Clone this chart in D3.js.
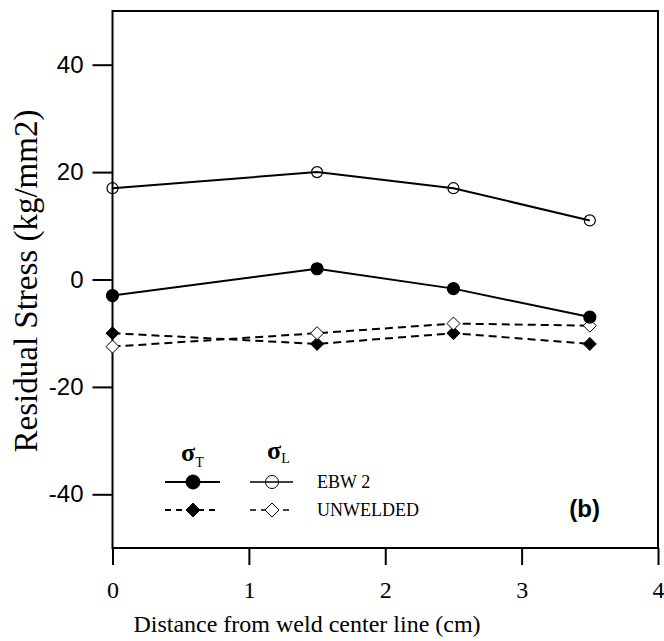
<!DOCTYPE html>
<html>
<head>
<meta charset="utf-8">
<script src="https://cdn.jsdelivr.net/npm/d3@7"></script>
<style>
  body { margin: 0; background: #fff; }
  svg { display: block; }
</style>
</head>
<body>
<svg id="chart" width="664" height="641"></svg>
<script>
// distances from weld centre line (cm)
const distance = [0, 1.5, 2.5, 3.5];
// residual stress (kg/mm2)
const ebwT = [-3, 2, -1.7, -7];
const ebwL = [17, 20, 17, 11];
const unweldedT = [-10, -12, -10, -12];
const unweldedL = [-12.5, -10, -8.2, -8.6];
const xTicks = [0, 1, 2, 3, 4];
const yTicks = [-40, -20, 0, 20, 40];

const svg = d3.select('#chart');
const plotLeft = 112.5, plotRight = 658, plotTop = 11, plotBottom = 548;

const x = d3.scaleLinear().domain([0, 4]).range([plotLeft, plotRight]);
const y = d3.scaleLinear().domain([-50, 50]).range([plotBottom, plotTop]);

// axes
const xAxis = svg.append('g')
    .attr('transform', `translate(0,${plotBottom})`)
    .call(d3.axisBottom(x).tickValues(xTicks).tickSize(17).tickPadding(16).tickFormat(d3.format('d')));
xAxis.select('.domain').remove();
xAxis.selectAll('line').attr('stroke', '#000').attr('stroke-width', 2);
xAxis.selectAll('text')
    .attr('fill', '#000')
    .style('font-family', '"Liberation Serif", "Times New Roman", serif')
    .style('font-size', '24px');

const yAxis = svg.append('g')
    .attr('transform', `translate(${plotLeft},0)`)
    .call(d3.axisLeft(y).tickValues(yTicks).tickSize(20).tickPadding(9).tickFormat(d => d < 0 ? '-' + Math.abs(d) : d));
yAxis.select('.domain').remove();
yAxis.selectAll('line').attr('stroke', '#000').attr('stroke-width', 2);
yAxis.selectAll('text')
    .attr('fill', '#000')
    .style('font-family', '"Liberation Sans", Arial, sans-serif')
    .style('font-size', '24px');

// frame
svg.append('rect')
    .attr('x', plotLeft).attr('y', plotTop)
    .attr('width', plotRight - plotLeft).attr('height', plotBottom - plotTop)
    .attr('fill', 'none')
    .attr('stroke', '#000')
    .attr('stroke-width', 2);

// titles
svg.append('text')
    .attr('x', 307).attr('y', 632)
    .attr('text-anchor', 'middle')
    .style('font-family', '"Liberation Serif", "Times New Roman", serif')
    .style('font-size', '24px')
    .text('Distance from weld center line (cm)');

svg.append('text')
    .attr('transform', 'translate(37,281) rotate(-90)')
    .attr('text-anchor', 'middle')
    .style('font-family', '"Liberation Serif", "Times New Roman", serif')
    .style('font-size', '33px')
    .text('Residual Stress (kg/mm2)');

// series
const series = [
    { values: unweldedT, dash: '8,5', marker: 'diamond', fill: '#000' },
    { values: unweldedL, dash: '8,5', marker: 'diamond', fill: '#fff' },
    { values: ebwT, dash: null, marker: 'circle', fill: '#000' },
    { values: ebwL, dash: null, marker: 'circle', fill: 'none' }
];

const line = d3.line()
    .x((d, i) => x(distance[i]))
    .y(d => y(d));

const diamond = (r) => `M0,${-r}L${r},0L0,${r}L${-r},0Z`;

series.forEach(s => {
    svg.append('path')
        .attr('d', line(s.values))
        .attr('fill', 'none')
        .attr('stroke', '#000')
        .attr('stroke-width', 2)
        .attr('stroke-dasharray', s.dash);
});

series.forEach(s => {
    const g = svg.append('g');
    s.values.forEach((v, i) => {
        if (s.marker === 'circle') {
            g.append('circle')
                .attr('cx', x(distance[i])).attr('cy', y(v))
                .attr('r', s.fill === 'none' ? 5.5 : 6)
                .attr('fill', s.fill)
                .attr('stroke', '#000')
                .attr('stroke-width', 1.2);
        } else {
            g.append('path')
                .attr('transform', `translate(${x(distance[i])},${y(v)})`)
                .attr('d', diamond(6.5))
                .attr('fill', s.fill)
                .attr('stroke', '#000')
                .attr('stroke-width', 1);
        }
    });
});

// legend
const legend = svg.append('g');
const serif = '"Liberation Serif", "Times New Roman", serif';

legend.append('text')
    .attr('x', 181).attr('y', 461)
    .style('font-family', serif).style('font-size', '26px').style('font-weight', 'bold')
    .text('σ')
    .append('tspan').attr('dy', 6).style('font-size', '14px').style('font-weight', 'normal').text('T');
legend.append('text')
    .attr('x', 267).attr('y', 459)
    .style('font-family', serif).style('font-size', '26px').style('font-weight', 'bold')
    .text('σ')
    .append('tspan').attr('dy', 4).style('font-size', '14px').style('font-weight', 'normal').text('L');

const rows = [
    { y: 482, dash: null, label: 'EBW 2', marker: 'circle', fills: ['#000', 'none'] },
    { y: 510, dash: '6,5', label: 'UNWELDED', marker: 'diamond', fills: ['#000', '#fff'] }
];
rows.forEach(r => {
    [[165, 220, 193], [250, 293, 272]].forEach((seg, k) => {
        legend.append('line')
            .attr('x1', seg[0]).attr('x2', seg[1])
            .attr('y1', r.y).attr('y2', r.y)
            .attr('stroke', '#000')
            .attr('stroke-width', k === 0 ? 2 : 1.5)
            .attr('stroke-dasharray', r.dash);
        if (r.marker === 'circle') {
            legend.append('circle')
                .attr('cx', seg[2]).attr('cy', r.y)
                .attr('r', k === 0 ? 7 : 6.5)
                .attr('fill', r.fills[k])
                .attr('stroke', '#000')
                .attr('stroke-width', 1);
        } else {
            legend.append('path')
                .attr('transform', `translate(${seg[2]},${r.y})`)
                .attr('d', diamond(7))
                .attr('fill', r.fills[k])
                .attr('stroke', '#000')
                .attr('stroke-width', 1);
        }
    });
    legend.append('text')
        .attr('x', 317).attr('y', r.y + 6)
        .style('font-family', serif).style('font-size', '18px')
        .text(r.label);
});

svg.append('text')
    .attr('x', 600).attr('y', 517)
    .attr('text-anchor', 'end')
    .style('font-family', '"Liberation Sans", Arial, sans-serif')
    .style('font-size', '24px').style('font-weight', 'bold')
    .text('(b)');
</script>
</body>
</html>
